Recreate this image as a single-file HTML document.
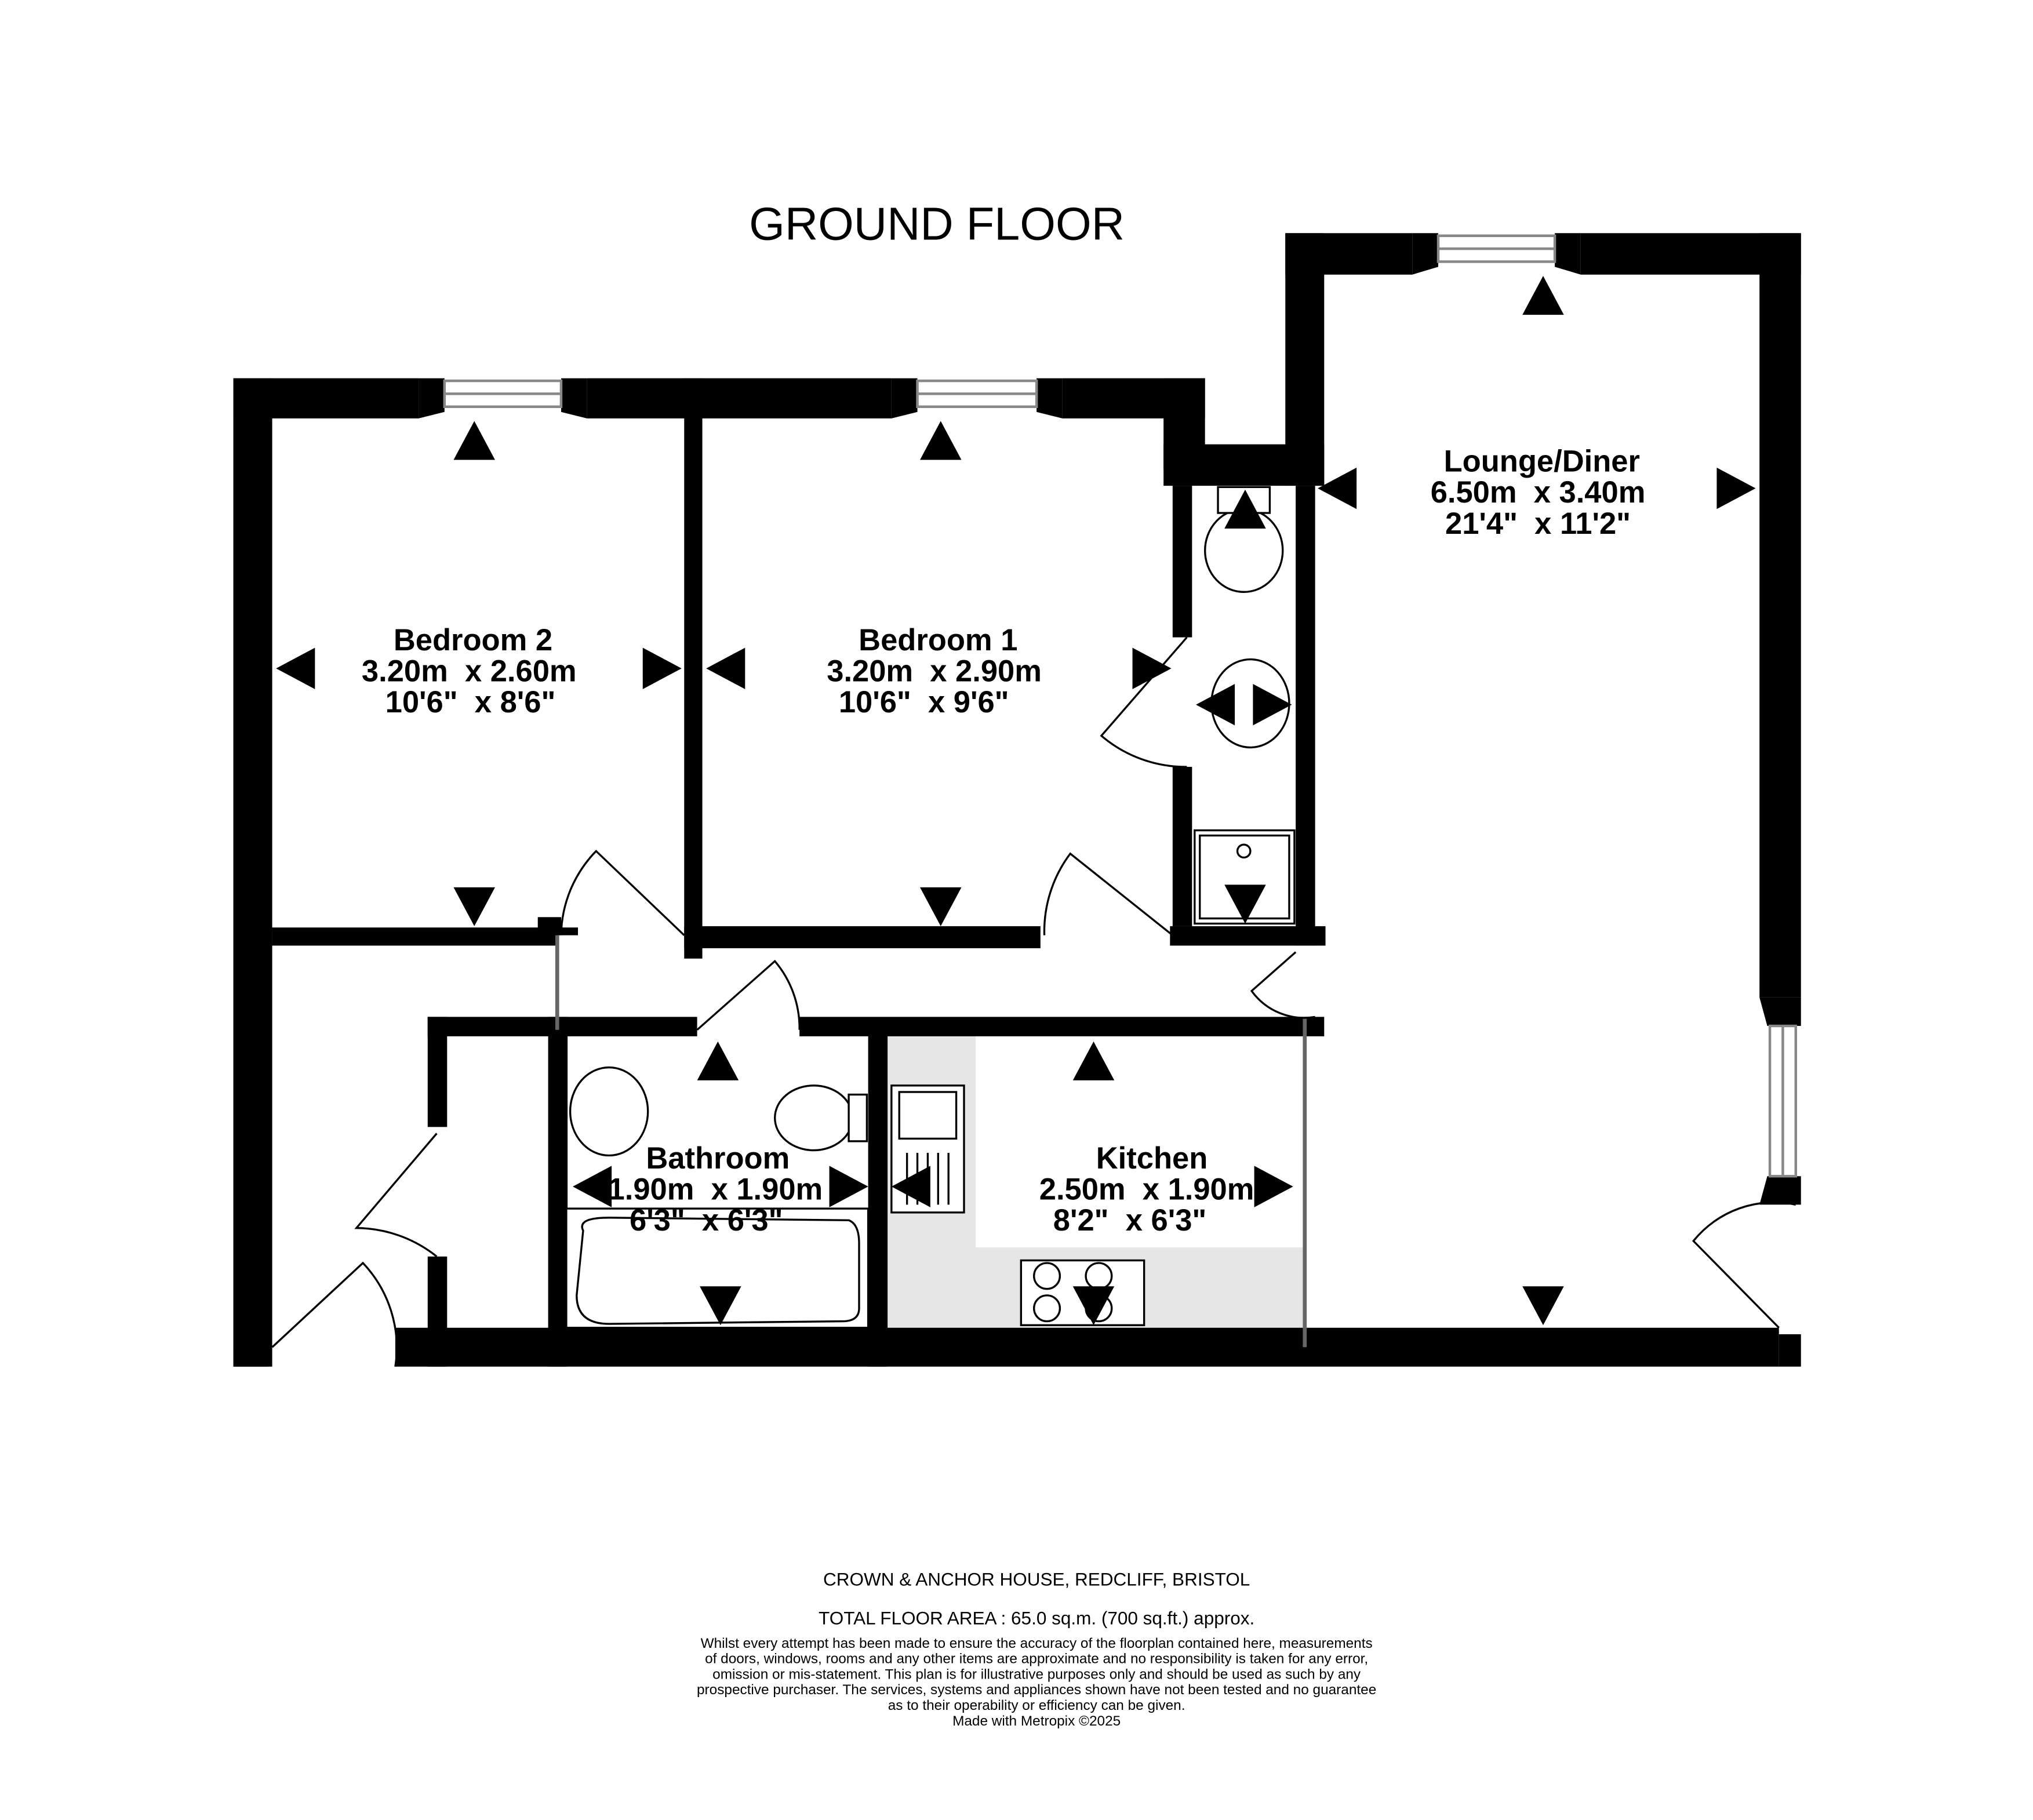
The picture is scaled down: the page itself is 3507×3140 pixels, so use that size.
<!DOCTYPE html>
<html><head><meta charset="utf-8"><style>
html,body{margin:0;padding:0;background:#fff;}
svg{display:block;}
text{font-family:"Liberation Sans",sans-serif;white-space:pre;}
</style></head><body>
<svg width="3507" height="3140" viewBox="0 0 1569 1405" xmlns="http://www.w3.org/2000/svg" xml:space="preserve">
<rect x="0" y="0" width="1569" height="1405" fill="#fff"/>
<rect x="685" y="800" width="322" height="225" fill="#e6e6e6"/>
<rect x="753" y="800" width="254" height="163" fill="#fff"/>
<g fill="#000">
<rect x="180" y="292" width="30" height="763"/>
<rect x="180" y="292" width="143" height="31"/>
<polygon points="323,292 343,292 343,318 323,323"/>
<rect x="453" y="292" width="235" height="31"/>
<polygon points="433,292 453,292 453,323 433,318"/>
<polygon points="688,292 708,292 708,318 688,323"/>
<rect x="820" y="292" width="110" height="31"/>
<polygon points="800,292 820,292 820,323 800,318"/>
<rect x="528" y="292" width="14" height="448"/>
<rect x="898" y="292" width="32" height="70"/>
<rect x="898" y="343" width="124" height="32"/>
<rect x="992" y="180" width="30" height="195"/>
<rect x="992" y="180" width="98" height="32"/>
<polygon points="1090,180 1110,180 1110,206 1090,212"/>
<rect x="1220" y="180" width="170" height="32"/>
<polygon points="1200,180 1220,180 1220,212 1200,206"/>
<rect x="1358" y="180" width="32" height="590"/>
<polygon points="1358,770 1390,770 1390,792 1364,792"/>
<polygon points="1364,908 1390,908 1390,930 1358,930"/>
<rect x="905" y="375" width="15" height="117"/>
<rect x="905" y="592" width="15" height="123"/>
<rect x="1000" y="375" width="15" height="355"/>
<rect x="903" y="715" width="120" height="15"/>
<rect x="528" y="715" width="275" height="17"/>
<rect x="210" y="716" width="220" height="14"/>
<rect x="415" y="708" width="18" height="14"/>
<rect x="430" y="716" width="16" height="6"/>
<rect x="330" y="785" width="208" height="15"/>
<rect x="617" y="785" width="405" height="15"/>
<rect x="330" y="785" width="15" height="85"/>
<rect x="330" y="970" width="15" height="85"/>
<rect x="423" y="785" width="15" height="270"/>
<rect x="670" y="795" width="15" height="260"/>
<rect x="305" y="1025" width="1068" height="30"/>
<rect x="1373" y="1030" width="17" height="25"/>
<rect x="180" y="1040" width="27" height="15"/>
</g>
<g fill="none" stroke="#888" stroke-width="2">
<rect x="343" y="294" width="90" height="20"/><line x1="343" y1="304" x2="433" y2="304"/>
<rect x="708" y="294" width="92" height="20"/><line x1="708" y1="304" x2="800" y2="304"/>
<rect x="1110" y="182" width="90" height="20"/><line x1="1110" y1="192" x2="1200" y2="192"/>
<rect x="1366" y="792" width="20" height="116"/><line x1="1376" y1="792" x2="1376" y2="908"/>
</g>
<line x1="1007" y1="785" x2="1007" y2="1040" stroke="#666" stroke-width="3"/>
<line x1="430" y1="722" x2="430" y2="795" stroke="#666" stroke-width="3"/>
<g fill="none" stroke="#000" stroke-width="1.5">
<path d="M528,722 L460,657 A95,95 0 0 0 433,722"/>
<path d="M905,722 L826,659 A100,100 0 0 0 806,722"/>
<path d="M538,795 L598,742 A80,80 0 0 1 617,795"/>
<path d="M916,492 L850,568 A100,100 0 0 0 916,592"/>
<path d="M1000,735 L966,765 A50,50 0 0 0 1015,785"/>
<path d="M337,875 L275,948 A100,100 0 0 1 337,970"/>
<path d="M210,1040 L280,975 A95,95 0 0 1 305,1055"/>
<path d="M1373,1025 L1307,958 A80,80 0 0 1 1386,930"/>
</g>
<g fill="#fff" stroke="#000" stroke-width="1.5">
<ellipse cx="960" cy="425" rx="30" ry="32"/>
<rect x="940" y="376" width="40" height="20"/>
<ellipse cx="965" cy="543" rx="30" ry="34"/>
<rect x="922" y="641" width="77" height="72"/>
<rect x="926" y="645" width="69" height="64"/>
<circle cx="960" cy="657" r="5"/>
<ellipse cx="470" cy="858" rx="30" ry="34"/>
<ellipse cx="628" cy="863" rx="30" ry="25"/>
<rect x="655" y="845" width="14" height="36"/>
<rect x="437" y="933" width="233" height="92"/>
<path d="M450,950 Q445,940 470,940 L655,942 Q663,945 663,960 L663,1010 Q663,1020 650,1020 L470,1022 Q445,1022 445,1000 Z"/>
<rect x="688" y="838" width="56" height="98"/>
<rect x="694" y="843" width="44" height="36"/>
<rect x="788" y="973" width="95" height="50"/>
<circle cx="808" cy="985" r="10"/><circle cx="848" cy="985" r="10"/>
<circle cx="808" cy="1010" r="10"/><circle cx="848" cy="1010" r="10"/>
</g>
<g stroke="#000" stroke-width="1.5">
<line x1="700" y1="890" x2="700" y2="930"/><line x1="708" y1="890" x2="708" y2="930"/><line x1="716" y1="890" x2="716" y2="930"/><line x1="724" y1="890" x2="724" y2="930"/><line x1="732" y1="890" x2="732" y2="930"/>
</g>
<g fill="#000">
<path d="M350,355 l16,-30 l16,30 z"/>
<path d="M710,355 l16,-30 l16,30 z"/>
<path d="M1175,243 l16,-30 l16,30 z"/>
<path d="M945,408 l16,-30 l16,30 z"/>
<path d="M538,834 l16,-30 l16,30 z"/>
<path d="M828,834 l16,-30 l16,30 z"/>
<path d="M350,685 l16,30 l16,-30 z"/>
<path d="M710,685 l16,30 l16,-30 z"/>
<path d="M945,683 l16,30 l16,-30 z"/>
<path d="M1175,993 l16,30 l16,-30 z"/>
<path d="M540,993 l16,30 l16,-30 z"/>
<path d="M828,993 l16,30 l16,-30 z"/>
<path d="M243,500 l-30,16 l30,16 z"/>
<path d="M575,500 l-30,16 l30,16 z"/>
<path d="M1047,361 l-30,16 l30,16 z"/>
<path d="M953,528 l-30,16 l30,16 z"/>
<path d="M472,900 l-30,16 l30,16 z"/>
<path d="M718,900 l-30,16 l30,16 z"/>
<path d="M496,500 l30,16 l-30,16 z"/>
<path d="M874,500 l30,16 l-30,16 z"/>
<path d="M1325,361 l30,16 l-30,16 z"/>
<path d="M967,528 l30,16 l-30,16 z"/>
<path d="M640,900 l30,16 l-30,16 z"/>
<path d="M968,900 l30,16 l-30,16 z"/>
</g>
<g font-weight="bold" font-size="23.5" text-anchor="middle" fill="#000">
<text x="365" y="502">Bedroom 2</text><text x="362" y="526">3.20m  x 2.60m</text><text x="363" y="550">10'6"  x 8'6"</text>
<text x="724" y="502">Bedroom 1</text><text x="721" y="526">3.20m  x 2.90m</text><text x="713" y="550">10'6"  x 9'6"</text>
<text x="1190" y="364">Lounge/Diner</text><text x="1187" y="388">6.50m  x 3.40m</text><text x="1187" y="412">21'4"  x 11'2"</text>
<text x="554" y="902">Bathroom</text><text x="552" y="926">1.90m  x 1.90m</text><text x="545" y="950">6'3"  x 6'3"</text>
<text x="889" y="902">Kitchen</text><text x="885" y="926">2.50m  x 1.90m</text><text x="872" y="950">8'2"  x 6'3"</text>
</g>
<text x="723" y="185" font-size="35.5" text-anchor="middle">GROUND FLOOR</text>
<g text-anchor="middle" fill="#000">
<text x="800" y="1224" font-size="14.1">CROWN &amp; ANCHOR HOUSE, REDCLIFF, BRISTOL</text>
<text x="800" y="1254" font-size="14.1">TOTAL FLOOR AREA : 65.0 sq.m. (700 sq.ft.) approx.</text>
<text x="800" y="1272" font-size="10.9">Whilst every attempt has been made to ensure the accuracy of the floorplan contained here, measurements</text>
<text x="800" y="1284" font-size="10.9">of doors, windows, rooms and any other items are approximate and no responsibility is taken for any error,</text>
<text x="800" y="1296" font-size="10.9">omission or mis-statement. This plan is for illustrative purposes only and should be used as such by any</text>
<text x="800" y="1308" font-size="10.9">prospective purchaser. The services, systems and appliances shown have not been tested and no guarantee</text>
<text x="800" y="1320" font-size="10.9">as to their operability or efficiency can be given.</text>
<text x="800" y="1332" font-size="10.9">Made with Metropix ©2025</text>
</g>
</svg>
</body></html>
